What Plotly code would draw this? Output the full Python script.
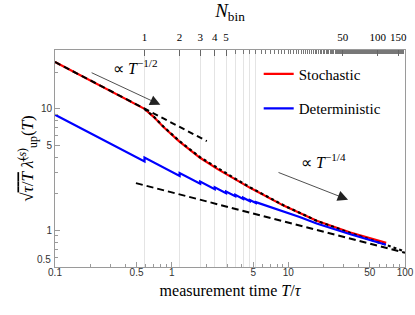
import math
import plotly.graph_objects as go

# ---------------- data ----------------
T_BIN = 0.585  # measurement time of one bin (N_bin = 1)

# Stochastic (red)
stoch_T = [0.1, 0.585, 0.70, 0.85, 1.16, 1.75, 2.5, 3.4, 4.7, 9.1, 17.5, 34, 69]
stoch_v = [24.3, 10.0, 8.6, 7.1, 5.4, 3.96, 3.18, 2.68, 2.24, 1.60, 1.20, 0.96, 0.79]

# analytic curve (black dotted)
theory_T = [0.585, 0.70, 0.85, 1.16, 1.75, 2.5, 3.4, 4.7, 9.1, 17.5, 34, 69, 100]
theory_v = [10.0, 8.65, 7.15, 5.45, 4.0, 3.22, 2.71, 2.26, 1.61, 1.20, 0.95, 0.76, 0.67]

# Deterministic (blue, sawtooth)
det_T = [0.1, 0.585, 0.585, 1.17, 1.17, 1.755, 1.755, 2.34, 2.34, 2.925, 2.925,
         3.51, 3.51, 4.095, 4.095, 4.68, 4.68, 5.265, 5.265, 9.1, 12.5, 17.5, 34, 68.7]
det_v = [8.93, 3.69, 3.98, 2.81, 2.96, 2.42, 2.52, 2.18, 2.26, 2.02, 2.09,
         1.91, 1.96, 1.815, 1.86, 1.74, 1.78, 1.68, 1.71, 1.44, 1.29, 1.14, 0.93, 0.763]

# power-law guides (black dashed)
half_T = [0.1, 2.0]
half_v = [24.3, 5.43]
quarter_T = [0.494, 100]
quarter_v = [2.45, 0.655]

# axis ticks
x_ticks = [0.1, 0.5, 1, 5, 10, 50, 100]
x_ticktext = ["0.1", "0.5", "1", "5", "10", "50", "100"]
x_minor = [0.2, 0.3, 0.4, 0.6, 0.7, 0.8, 0.9, 2, 3, 4, 6, 7, 8, 9,
           20, 30, 40, 60, 70, 80, 90]
y_ticks = [0.5, 1, 5, 10]
y_ticktext = ["", "1", "5", "10"]   # "0.5" is placed separately (raised), as in the original
y_bottom_label = "0.5"
y_minor = [0.6, 0.7, 0.8, 0.9, 2, 3, 4, 6, 7, 8, 9, 20, 30]
N_labels = [1, 2, 3, 4, 5, 50, 100, 150]
N_minor = [n for n in range(6, 171) if n not in (50, 100, 150)]
N_grid = [1, 2, 3, 4, 5, 6, 7, 8, 9]

# ---------------- figure ----------------
SERIF = "Liberation Serif"
SANS = "Liberation Sans"
AXC = "#9a9a9a"

fig = go.Figure()

fig.add_trace(go.Scatter(x=stoch_T, y=stoch_v, mode="lines", name="Stochastic",
                         line=dict(color="#ff0000", width=2.2), legendgroup="a"))
fig.add_trace(go.Scatter(x=theory_T, y=theory_v, mode="lines", showlegend=False,
                         line=dict(color="black", width=2.2, dash="dot")))
fig.add_trace(go.Scatter(x=half_T, y=half_v, mode="lines", showlegend=False,
                         line=dict(color="black", width=2, dash="6px,4px")))
fig.add_trace(go.Scatter(x=det_T, y=det_v, mode="lines", name="Deterministic",
                         line=dict(color="#0000ff", width=2.2), legendgroup="b"))
fig.add_trace(go.Scatter(x=quarter_T, y=quarter_v, mode="lines", showlegend=False,
                         line=dict(color="black", width=2, dash="7px,4px")))

# dummy traces so that top axes are built
fig.add_trace(go.Scatter(x=N_labels, y=[1] * len(N_labels), xaxis="x2", mode="lines",
                         line=dict(width=0), opacity=0, showlegend=False, hoverinfo="skip"))
fig.add_trace(go.Scatter(x=N_grid, y=[1] * len(N_grid), xaxis="x3", mode="lines",
                         line=dict(width=0), opacity=0, showlegend=False, hoverinfo="skip"))

top_range = [math.log10(0.1 / T_BIN), math.log10(100.02 / T_BIN)]

fig.update_layout(
    width=415, height=315,
    margin=dict(l=55, r=10, t=50, b=48, autoexpand=False),
    paper_bgcolor="white", plot_bgcolor="white",
    showlegend=True, hovermode=False,
    legend=dict(x=0.582, y=0.965, xanchor="left", yanchor="top",
                font=dict(family=SERIF, size=15, color="black"),
                bgcolor="rgba(0,0,0,0)", tracegroupgap=12, traceorder="grouped"),
    xaxis=dict(type="log", range=[-1.0001, 2.0001], tickmode="array", tickvals=x_ticks,
               ticktext=x_ticktext, ticks="inside", ticklen=5, tickcolor=AXC,
               showline=True, linecolor=AXC, linewidth=1, showgrid=False,
               zeroline=False, automargin=False, ticklabelstandoff=-4,
               tickfont=dict(family=SANS, size=10, color="#333"),
               minor=dict(tickmode="array", tickvals=x_minor, ticks="inside",
                          ticklen=3, tickcolor=AXC, showgrid=False),
               title=dict(text="measurement time <i>T</i>/<i>τ</i>", standoff=7,
                          font=dict(family=SERIF, size=16, color="black"))),
    xaxis2=dict(type="log", range=top_range, overlaying="x", side="top", anchor="y",
                tickmode="array", tickvals=N_labels, ticktext=[str(n) for n in N_labels],
                ticks="inside", ticklen=6, tickcolor="#666", showline=True,
                linecolor=AXC, linewidth=1, showgrid=False, zeroline=False,
                automargin=False, ticklabelstandoff=4,
                tickfont=dict(family=SERIF, size=11, color="black"),
                minor=dict(tickmode="array", tickvals=N_minor, ticks="inside",
                           ticklen=4, tickcolor="#777", showgrid=False),
                title=dict(text="<i>N</i><sub>bin</sub>", standoff=12,
                           font=dict(family=SERIF, size=19, color="black"))),
    xaxis3=dict(type="log", range=top_range, overlaying="x", side="top", anchor="y",
                tickmode="array", tickvals=N_grid, ticks="", showticklabels=False,
                showline=False, showgrid=True, gridcolor="#e4e4e4", gridwidth=1,
                zeroline=False, automargin=False),
    yaxis=dict(type="log", range=[math.log10(0.5), math.log10(30.5)], tickmode="array",
               tickvals=y_ticks, ticktext=y_ticktext, ticks="inside", ticklen=5,
               tickcolor=AXC, showline=True, linecolor=AXC, linewidth=1, mirror=True,
               showgrid=False, zeroline=False, automargin=False,
               tickfont=dict(family=SANS, size=10, color="#333"),
               minor=dict(tickmode="array", tickvals=y_minor, ticks="inside",
                          ticklen=3, tickcolor=AXC, showgrid=False),
               title=dict(text="√<span style='text-decoration:overline'><i>τ</i>/<i>T</i></span>"
                               " <i>λ̄</i><sup>(<i>s</i>)</sup><sub>up</sub>(<i>T</i>)",
                          standoff=2,
                          font=dict(family=SERIF, size=17, color="black"))),
)

# raised "0.5" label at the bottom of the y axis
fig.add_annotation(x=0, y=0, xref="paper", yref="paper", text=y_bottom_label,
                   showarrow=False, xanchor="right", yanchor="middle",
                   xshift=-2, yshift=8, font=dict(family=SANS, size=10, color="#333"))

L = math.log10
# arrows
fig.add_annotation(x=L(0.80), y=L(10.8), ax=L(0.2), ay=L(20.1), axref="x", ayref="y",
                   xref="x", yref="y", text="", showarrow=True, arrowhead=2,
                   arrowsize=2.6, arrowwidth=0.8, arrowcolor="#222")
fig.add_annotation(x=L(32.5), y=L(1.79), ax=L(8.0), ay=L(3.03), axref="x", ayref="y",
                   xref="x", yref="y", text="", showarrow=True, arrowhead=2,
                   arrowsize=2.6, arrowwidth=0.8, arrowcolor="#222")
# labels
fig.add_annotation(x=L(0.49), y=L(22.0), xref="x", yref="y", showarrow=False,
                   text="∝ <i>T</i><sup>−1/2</sup>",
                   font=dict(family=SERIF, size=16, color="black"))
fig.add_annotation(x=L(19.9), y=L(3.7), xref="x", yref="y", showarrow=False,
                   text="∝ <i>T</i><sup>−1/4</sup>",
                   font=dict(family=SERIF, size=16, color="black"))

# place the figure at the page's top-left corner, without scrollbars or modebar
fig.write_html("out.html",
               config={"displayModeBar": False, "staticPlot": True},
               post_script="document.body.style.margin='0';"
                           "document.body.style.overflow='hidden';")
